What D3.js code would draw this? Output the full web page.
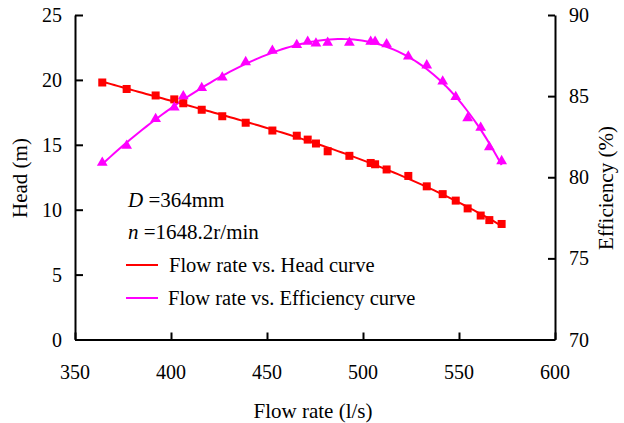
<!DOCTYPE html>
<html>
<head>
<meta charset="utf-8">
<script src="https://cdn.jsdelivr.net/npm/d3@7"></script>
<style>
  body{margin:0;background:#fff;}
  text{font-family:"Liberation Serif","Times New Roman",serif;fill:#000;}
</style>
</head>
<body>
<div id="chart"></div>
<script>
// measured points (flow rate l/s)
var flow=[364.2,376.9,392.0,401.7,406.4,416.0,426.7,438.9,452.8,465.5,471.2,475.5,481.6,
          492.9,504.0,506.3,512.3,523.6,533.2,541.5,548.3,554.5,561.3,565.8,572.2];
var head=[19.8,19.3,18.8,18.5,18.2,17.7,17.2,16.7,16.1,15.7,15.4,15.1,14.5,
          14.15,13.6,13.5,13.1,12.6,11.8,11.2,10.7,10.1,9.55,9.2,8.9];
var eff=[80.9,81.95,83.6,84.3,85.0,85.5,86.15,87.1,87.8,88.15,88.35,88.25,88.3,
         88.3,88.35,88.35,88.2,87.45,86.9,85.9,84.95,83.65,83.05,81.85,81.0];
var xTicks=[350,400,450,500,550,600];
var headTicks=[0,5,10,15,20,25];
var effTicks=[70,75,80,85,90];

var W=624,H=423;
var pLeft=75,pRight=555,pTop=15,pBottom=339.5;

var svg=d3.select("#chart").append("svg")
  .attr("width",W).attr("height",H);

var x=d3.scaleLinear().domain([350,600]).range([pLeft,pRight]);
var yH=d3.scaleLinear().domain([0,25]).range([pBottom,pTop]);
var yE=d3.scaleLinear().domain([70,90]).range([pBottom,pTop]);

// least squares polynomial fit (trendline like the original)
function polyfit(xs,ys,deg){
  var n=deg+1,A=[],b=[];
  for(var i=0;i<n;i++){A.push(new Array(n).fill(0));b.push(0);}
  for(var k=0;k<xs.length;k++){
    var t=(xs[k]-470)/100;
    for(var i=0;i<n;i++){
      for(var j=0;j<n;j++) A[i][j]+=Math.pow(t,i+j);
      b[i]+=ys[k]*Math.pow(t,i);
    }
  }
  for(var i=0;i<n;i++){
    var p=i;
    for(var r=i+1;r<n;r++) if(Math.abs(A[r][i])>Math.abs(A[p][i])) p=r;
    var tmp=A[i];A[i]=A[p];A[p]=tmp;tmp=b[i];b[i]=b[p];b[p]=tmp;
    for(var r=i+1;r<n;r++){
      var f=A[r][i]/A[i][i];
      for(var c=i;c<n;c++) A[r][c]-=f*A[i][c];
      b[r]-=f*b[i];
    }
  }
  var co=new Array(n).fill(0);
  for(var i=n-1;i>=0;i--){
    var s=b[i];
    for(var c=i+1;c<n;c++) s-=A[i][c]*co[c];
    co[i]=s/A[i][i];
  }
  return function(xv){
    var t=(xv-470)/100,s=0;
    for(var i=0;i<n;i++) s+=co[i]*Math.pow(t,i);
    return s;
  };
}

var fitH=polyfit(flow,head,3);
var fitE=polyfit(flow,eff,4);
var x0=d3.min(flow),x1=d3.max(flow);
var samples=d3.range(0,101).map(function(i){return x0+(x1-x0)*i/100;});

// axes (ticks pointing inward)
var g=svg.append("g");
g.append("g").attr("transform","translate(0,"+pBottom+")")
  .call(d3.axisTop(x).tickValues(xTicks).tickSize(7).tickSizeOuter(0).tickFormat(""));
g.append("g").attr("transform","translate("+pLeft+",0)")
  .call(d3.axisRight(yH).tickValues(headTicks).tickSize(8).tickSizeOuter(0).tickFormat(""));
g.append("g").attr("transform","translate("+pRight+",0)")
  .call(d3.axisLeft(yE).tickValues(effTicks).tickSize(7).tickSizeOuter(0).tickFormat(""));
g.selectAll(".domain,.tick line").attr("stroke","#000").attr("stroke-width",2);

// tick labels
svg.selectAll(".xl").data(xTicks).enter().append("text")
  .attr("x",function(d){return x(d);}).attr("y",pBottom+39)
  .attr("text-anchor","middle").style("font-size","20px").text(function(d){return d;});
svg.selectAll(".hl").data(headTicks).enter().append("text")
  .attr("x",pLeft-13).attr("y",function(d){return yH(d)+7;})
  .attr("text-anchor","end").style("font-size","20px").text(function(d){return d;});
svg.selectAll(".el").data(effTicks).enter().append("text")
  .attr("x",pRight+14).attr("y",function(d){return yE(d)+7;})
  .attr("text-anchor","start").style("font-size","20px").text(function(d){return d;});

// axis titles
svg.append("text").attr("x",(pLeft+pRight)/2-2).attr("y",418)
  .attr("text-anchor","middle").style("font-size","21px").text("Flow rate (l/s)");
svg.append("text").attr("transform","translate(27,178) rotate(-90)")
  .attr("text-anchor","middle").style("font-size","21px").text("Head (m)");
svg.append("text").attr("transform","translate(613,188) rotate(-90)")
  .attr("text-anchor","middle").style("font-size","21px").text("Efficiency (%)");

// curves
var lineH=d3.line().x(function(d){return x(d);}).y(function(d){return yH(fitH(d));});
var lineE=d3.line().x(function(d){return x(d);}).y(function(d){return yE(fitE(d));});
svg.append("path").attr("d",lineH(samples)).attr("fill","none")
  .attr("stroke","#ff0000").attr("stroke-width",2);
svg.append("path").attr("d",lineE(samples)).attr("fill","none")
  .attr("stroke","#ff00ff").attr("stroke-width",2);

// markers
svg.selectAll(".sq").data(flow).enter().append("rect")
  .attr("x",function(d){return x(d)-4;})
  .attr("y",function(d,i){return yH(head[i])-4;})
  .attr("width",8).attr("height",8).attr("fill","#ff0000");
var tri=d3.symbol().type(d3.symbolTriangle).size(50);
svg.selectAll(".tr").data(flow).enter().append("path")
  .attr("d",tri)
  .attr("transform",function(d,i){return "translate("+x(d)+","+yE(eff[i])+")";})
  .attr("fill","#ff00ff");

// legend / notes
var t1=svg.append("text").attr("x",128).attr("y",207).style("font-size","21px");
t1.append("tspan").style("font-style","italic").text("D");
t1.append("tspan").text(" =364mm");
var t2=svg.append("text").attr("x",128).attr("y",239).style("font-size","21px");
t2.append("tspan").style("font-style","italic").text("n");
t2.append("tspan").text(" =1648.2r/min");

svg.append("line").attr("x1",126).attr("x2",158).attr("y1",265).attr("y2",265)
  .attr("stroke","#ff0000").attr("stroke-width",2);
svg.append("text").attr("x",169).attr("y",272).style("font-size","20.5px")
  .text("Flow rate vs. Head curve");
svg.append("line").attr("x1",126).attr("x2",158).attr("y1",298).attr("y2",298)
  .attr("stroke","#ff00ff").attr("stroke-width",2);
svg.append("text").attr("x",168).attr("y",305).style("font-size","20.5px")
  .text("Flow rate vs. Efficiency curve");
</script>
</body>
</html>
